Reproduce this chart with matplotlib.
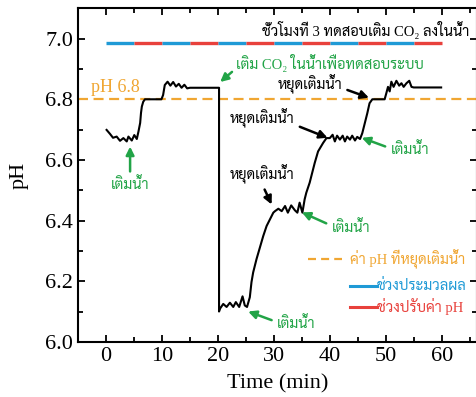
import matplotlib
matplotlib.use("Agg")
import numpy as np
from matplotlib import pyplot as plt

# Latin glyphs from Liberation Serif, Thai glyphs fall through to Sarabun
plt.rcParams['font.family'] = ['Liberation Serif', 'Sarabun', 'DejaVu Serif']

# pH trace (time in min, pH)
t = [0.1, 0.7, 1.25, 1.9, 2.5, 3.1, 3.7, 4.0, 4.6, 5.05, 5.5, 5.8, 6.1, 6.25, 6.4, 6.65, 6.96,
     9.9, 10.2, 10.5, 11.0, 11.5, 12.0, 12.5, 13.0, 13.5, 14.0, 14.5, 15.0, 20.2,
     20.2, 20.36, 20.95, 21.55, 22.14, 22.74, 23.2, 23.8, 24.4, 24.8, 25.2, 25.7, 26.0, 26.3,
     26.9, 27.5, 28.1, 28.7, 29.3, 29.9, 30.2, 30.8, 31.4, 32.0, 32.5, 33.1, 33.75, 34.2,
     34.6, 35.1, 35.5, 35.8, 36.4, 37.3, 37.9, 38.8, 39.4, 40.0, 40.5, 40.9, 41.3, 41.8,
     42.3, 42.7, 43.1, 43.6, 44.0, 44.5, 44.9, 45.4, 45.8, 46.25, 46.7, 47.1, 47.6, 49.8,
     50.1, 50.4, 50.7, 51.0, 51.4, 51.9, 52.4, 52.8, 53.2, 53.7, 54.2, 54.6, 55.0, 59.9]
ph = [6.699, 6.686, 6.673, 6.677, 6.663, 6.672, 6.661, 6.677, 6.664, 6.682, 6.669, 6.694, 6.722,
      6.755, 6.776, 6.792, 6.800, 6.800, 6.814, 6.847, 6.858, 6.845, 6.857, 6.842, 6.851, 6.838,
      6.848, 6.836, 6.838, 6.838, 6.100, 6.109, 6.125, 6.115, 6.129, 6.115, 6.131, 6.115, 6.150,
      6.120, 6.115, 6.147, 6.197, 6.229, 6.273, 6.311, 6.349, 6.382, 6.404, 6.426, 6.431, 6.439,
      6.431, 6.448, 6.426, 6.450, 6.434, 6.426, 6.459, 6.426, 6.470, 6.492, 6.525, 6.590, 6.628,
      6.656, 6.672, 6.672, 6.683, 6.661, 6.680, 6.667, 6.680, 6.661, 6.677, 6.667, 6.680, 6.664,
      6.676, 6.669, 6.688, 6.721, 6.754, 6.787, 6.800, 6.800, 6.820, 6.841, 6.826, 6.858, 6.841,
      6.861, 6.845, 6.853, 6.841, 6.853, 6.861, 6.841, 6.839, 6.839]

stop_ph = 6.8
# alternating 5-min phases: processing (blue) / pH adjust (red)
seg_edges = [0, 5, 10, 15, 20, 25, 30, 35, 40, 45, 50, 55, 60]
seg_level = 6.985

blue = '#1f9ad6'
red = '#e8413c'
orange = '#f0a632'
green = '#22a447'

fig = plt.figure(figsize=(4.76, 3.97), dpi=100)
ax = fig.add_axes([0.164, 0.139, 0.838, 0.840])

ax.axhline(stop_ph, color=orange, lw=1.6, ls=(0, (4.5, 2.5)))
for i in range(len(seg_edges) - 1):
    ax.plot(seg_edges[i:i + 2], [seg_level, seg_level], color=blue if i % 2 == 0 else red,
            lw=2.4, solid_capstyle='butt')
ax.plot(t, ph, color='black', lw=1.5)

ax.set_xlim(-5, 66.3)
ax.set_ylim(6.0, 7.1)
ax.set_xticks(range(0, 70, 10))
ax.set_xticks(range(-5, 70, 5), minor=True)
ax.set_yticks(np.arange(6.0, 7.01, 0.2))
ax.set_yticks(np.arange(6.1, 7.1, 0.2), minor=True)
ax.yaxis.set_major_formatter(matplotlib.ticker.FormatStrFormatter('%.1f'))
ax.tick_params(which='both', direction='in', top=True, right=True, labelsize=16, width=1.3)
ax.tick_params(which='major', length=5)
ax.tick_params(which='minor', length=3.5)
for s in ax.spines.values():
    s.set_linewidth(1.5)
ax.set_xlabel('Time (min)', fontsize=16, labelpad=6)
ax.set_ylabel('pH', fontsize=16, labelpad=12)

fs = 10.5
arr = dict(arrowstyle='-|>', lw=1.8, mutation_scale=12, shrinkB=0)
ax.text(-2.6, 6.84, 'pH 6.8', color=orange, fontsize=13, va='center')
ax.text(65.0, 7.027, 'ชั่วโมงที่ 3 ทดสอบเติม CO\u2082 ลงในน้ำ', ha='right', va='center', fontsize=fs)
ax.annotate('เติม CO\u2082 ในน้ำเพื่อทดสอบระบบ', xy=(20.4, 6.857), xytext=(23.2, 6.919),
            color=green, fontsize=fs, va='center',
            arrowprops=dict(arr, color=green, shrinkA=1, relpos=(0, 0.2)))
ax.annotate('เติมน้ำ', xy=(4.3, 6.644), xytext=(4.3, 6.519), color=green, fontsize=fs,
            ha='center', va='center', arrowprops=dict(arr, color=green, shrinkA=2, relpos=(0.5, 1)))
for xy, xyt in [((25.4, 6.10), (34.0, 6.06)), ((35.0, 6.427), (43.75, 6.378)),
                ((45.7, 6.673), (54.3, 6.633))]:
    ax.annotate('เติมน้ำ', xy=xy, xytext=xyt, color=green, fontsize=fs, ha='center', va='center',
                arrowprops=dict(arr, color=green, shrinkA=2, relpos=(0, 0.6)))
for xy, xyt, rp in [((29.6, 6.453), (27.9, 6.552), (0.5, 0)),
                    ((39.6, 6.673), (27.9, 6.739), (1, 0.15)),
                    ((47.0, 6.805), (36.4, 6.850), (1, 0.3))]:
    ax.annotate('หยุดเติมน้ำ', xy=xy, xytext=xyt, color='black', fontsize=fs, ha='center', va='center',
                arrowprops=dict(arr, color='black', shrinkA=2, relpos=rp))

# legend rows
ax.plot([36.1, 42.1], [6.273, 6.273], color=orange, lw=1.6, ls=(0, (3.6, 2.3)))
ax.text(43.6, 6.273, 'ค่า pH ที่หยุดเติมน้ำ', color=orange, fontsize=fs, va='center')
ax.plot([43.6, 48.4], [6.184, 6.184], color=blue, lw=2.2)
ax.text(48.4, 6.184, 'ช่วงประมวลผล', color=blue, fontsize=fs, va='center')
ax.plot([43.6, 48.4], [6.116, 6.116], color=red, lw=2.2)
ax.text(48.4, 6.116, 'ช่วงปรับค่า pH', color=red, fontsize=fs, va='center')

fig.savefig('out.png', dpi=100)
